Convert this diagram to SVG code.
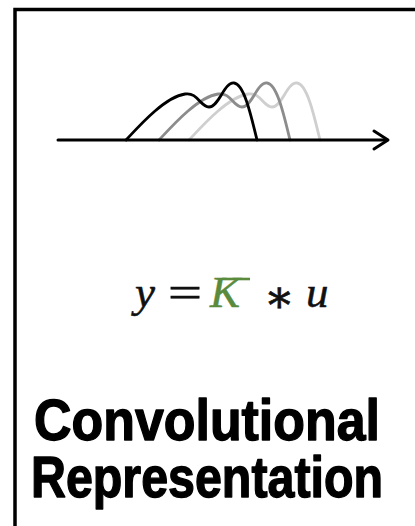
<svg xmlns="http://www.w3.org/2000/svg" width="415" height="526" viewBox="0 0 415 526">
<style>
.curve{fill:none;stroke-width:2.8;stroke-linecap:round;stroke-linejoin:round}
.math{font-family:"Liberation Serif","DejaVu Serif",serif;font-style:italic;font-size:45px;fill:#111;stroke:#111;stroke-width:0.5}
.op{font-family:"Liberation Serif","DejaVu Serif",serif;font-size:45px;fill:#111;stroke:#111;stroke-width:0.7}
.title{font-family:"Liberation Sans Narrow","Liberation Sans",sans-serif;font-weight:bold;font-size:58px;fill:#000;stroke:#000;stroke-width:1.4;stroke-linejoin:round}
</style>
<defs>
<path id="pulse" d="M126,140 C140,125 165,97 185,94 C198,92 200,107 209,107 C219,107 224,82 234,83 C244,84 251,115 257,140"/>
</defs>
<rect width="415" height="526" fill="#fff"/>
<rect id="frame" x="15" y="9.5" width="420" height="540" fill="none" stroke="#000" stroke-width="3.5"/>
<g id="plot">
<use href="#pulse" class="curve" stroke="#cfcfcf" transform="translate(63,0)"/>
<use href="#pulse" class="curve" stroke="#8c8c8c" transform="translate(33,0)"/>
<use href="#pulse" class="curve" stroke="#000"/>
<g id="axis" fill="none" stroke="#000" stroke-width="3" stroke-linecap="round" stroke-linejoin="round">
<path d="M58,140 H387"/>
<path d="M374,131 L388,140 L374,149"/>
</g>
</g>
<g id="formula">
<text class="math" x="135" y="307">y</text>
<text class="op" x="168" y="307" textLength="34" lengthAdjust="spacingAndGlyphs">=</text>
<text class="math" x="210" y="307" style="fill:#5a8a3c;stroke:#5a8a3c">K</text>
<path d="M222,279 H250" stroke="#5a8a3c" stroke-width="2.6"/>
<text class="op" x="264" y="312">∗</text>
<text class="math" x="306" y="307">u</text>
</g>
<g id="title">
<text class="title" x="207" y="440" text-anchor="middle" textLength="346" lengthAdjust="spacingAndGlyphs">Convolutional</text>
<text class="title" x="207" y="497" text-anchor="middle" textLength="352" lengthAdjust="spacingAndGlyphs">Representation</text>
</g>
</svg>
